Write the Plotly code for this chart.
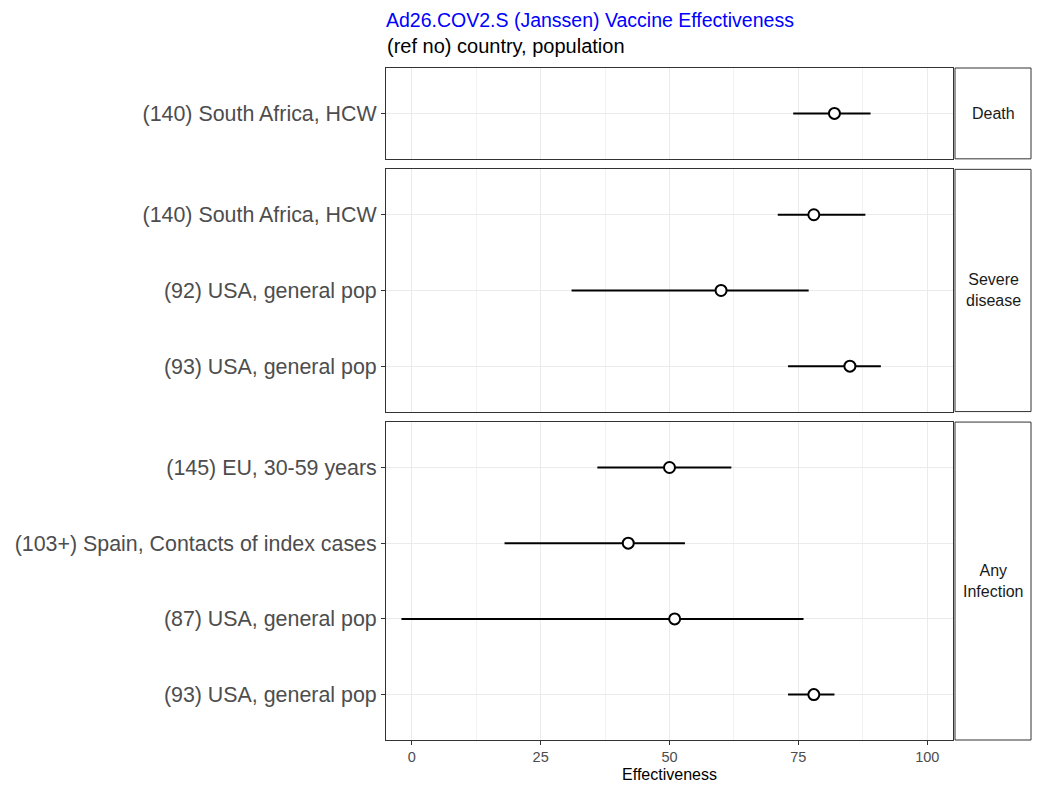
import plotly.graph_objects as go
from plotly.subplots import make_subplots

# ---- data ----
outcomes = ["Death", "Severe<br>disease", "Any<br>Infection"]

death_labels = ["(140) South Africa, HCW"]
death_est = [82]
death_lo = [74]
death_hi = [89]

severe_labels = ["(140) South Africa, HCW", "(92) USA, general pop", "(93) USA, general pop"]
severe_est = [78, 60, 85]
severe_lo = [71, 31, 73]
severe_hi = [88, 77, 91]

infect_labels = ["(145) EU, 30-59 years", "(103+) Spain, Contacts of index cases",
                 "(87) USA, general pop", "(93) USA, general pop"]
infect_est = [50, 42, 51, 78]
infect_lo = [36, 18, -2, 73]
infect_hi = [62, 53, 76, 82]

x_ticks = [0, 25, 50, 75, 100]

panels = [
    (death_labels, death_est, death_lo, death_hi),
    (severe_labels, severe_est, severe_lo, severe_hi),
    (infect_labels, infect_est, infect_lo, infect_hi),
]

# page body has an 8px margin; figure sized to fit the window
W, H = 1034, 787
ml, mr, mt, mb = 378, 89, 60, 55
plot_w = W - ml - mr
plot_h = H - mt - mb
gap = 10.5
vsp = gap / plot_h

heights = [len(p[0]) + 0.2 for p in panels]

fig = make_subplots(rows=3, cols=1, shared_xaxes=True,
                    row_heights=heights, vertical_spacing=vsp)

FONT = "Liberation Sans, Arial, sans-serif"
for i, (labels, est, lo, hi) in enumerate(panels, start=1):
    ypos = [f"{i}_{j}" for j in range(len(labels))]
    for k in range(len(labels)):
        fig.add_trace(go.Scatter(
            x=[lo[k], hi[k]], y=[ypos[k], ypos[k]], mode="lines",
            line=dict(color="black", width=2), showlegend=False, hoverinfo="skip"),
            row=i, col=1)
    fig.add_trace(go.Scatter(
        x=est, y=ypos, mode="markers",
        marker=dict(symbol="circle", size=11, color="white",
                    line=dict(color="black", width=2)),
        showlegend=False), row=i, col=1)
    n = len(labels)
    fig.update_yaxes(
        type="category", categoryorder="array", categoryarray=ypos,
        tickmode="array", tickvals=ypos, ticktext=labels,
        range=[n - 1 + 0.6, -0.6], automargin=False,
        showgrid=True, gridcolor="#EBEBEB", gridwidth=1,
        ticks="outside", ticklen=4, tickcolor="#333333", tickwidth=1,
        tickfont=dict(family=FONT, size=21.4, color="#4D4D4D"),
        showline=True, mirror=True, linecolor="#333333", linewidth=1,
        zeroline=False, row=i, col=1)

fig.update_xaxes(
    range=[-5, 105], tickmode="array", tickvals=x_ticks, automargin=False,
    showgrid=True, gridcolor="#EBEBEB", gridwidth=1,
    minor=dict(tickmode="array", tickvals=[12.5, 37.5, 62.5, 87.5],
               showgrid=True, gridcolor="#F2F2F2", gridwidth=1, ticks=""),
    showline=True, mirror=True, linecolor="#333333", linewidth=1,
    zeroline=False, ticks="", showticklabels=False)
fig.update_xaxes(
    ticks="outside", ticklen=4, tickcolor="#333333", tickwidth=1,
    showticklabels=True, tickfont=dict(family=FONT, size=14.5, color="#4D4D4D"),
    title=dict(text="Effectiveness", font=dict(family=FONT, size=16, color="black"),
               standoff=4),
    row=3, col=1)

# strips
sx0 = 1 + 2 / plot_w
sx1 = 1 + 78 / plot_w
yrefs = ["y domain", "y2 domain", "y3 domain"]
for i, txt in enumerate(outcomes):
    fig.add_shape(type="rect", xref="paper", yref=yrefs[i], x0=sx0, x1=sx1, y0=0, y1=1,
                  line=dict(color="#333333", width=1), fillcolor="white", layer="below")
    fig.add_annotation(xref="paper", yref=yrefs[i], x=(sx0 + sx1) / 2, y=0.5,
                       xanchor="center", yanchor="middle",
                       text=txt, showarrow=False,
                       font=dict(family=FONT, size=16, color="#1A1A1A"))

fig.add_annotation(xref="paper", yref="paper", x=-0.002, y=1 + mt / plot_h,
                   xanchor="left", yanchor="top", showarrow=False, borderpad=0,
                   text="Ad26.COV2.S (Janssen) Vaccine Effectiveness",
                   font=dict(family=FONT, size=19.5, color="#0000FF"))
fig.add_annotation(xref="paper", yref="paper", x=-0.002, y=1 + 22 / plot_h,
                   xanchor="left", yanchor="middle", showarrow=False,
                   text="(ref no) country, population",
                   font=dict(family=FONT, size=20, color="black"))

fig.update_layout(width=W, height=H, margin=dict(l=ml, r=mr, t=mt, b=mb, autoexpand=False),
                  plot_bgcolor="white", paper_bgcolor="white",
                  font=dict(family=FONT))

fig.write_html("out.html")
